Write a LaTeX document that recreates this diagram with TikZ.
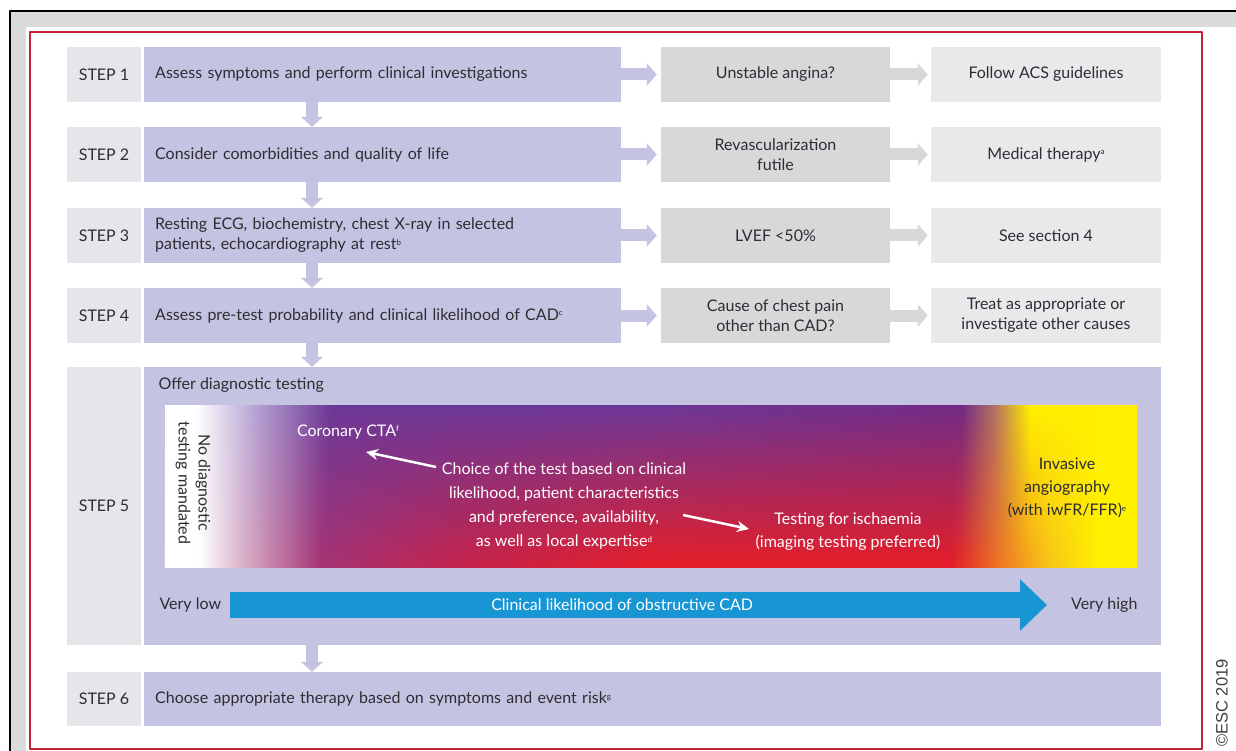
\documentclass[tikz,border=0pt]{standalone}
\usepackage{fontspec}
\setmainfont{Lato}
\newfontfamily\escfont{Liberation Sans}
\usetikzlibrary{arrows.meta,fadings}

\definecolor{boxpurple}{RGB}{197,195,226}
\definecolor{stepgray}{RGB}{230,230,234}
\definecolor{askgray}{RGB}{216,216,218}
\definecolor{outgray}{RGB}{233,233,236}
\definecolor{likeblue}{RGB}{24,150,212}
\definecolor{framered}{RGB}{190,35,55}
\definecolor{txt}{RGB}{45,45,50}
% colours of the likelihood band
\definecolor{toplav}{RGB}{184,168,214}
\definecolor{toppur}{RGB}{108,56,152}
\definecolor{toppur2}{RGB}{114,44,134}
\definecolor{topmauve}{RGB}{180,116,100}
\definecolor{likeyellow}{RGB}{255,240,0}
\definecolor{botpink}{RGB}{220,176,200}
\definecolor{botmag}{RGB}{166,52,116}
\definecolor{botcrim}{RGB}{196,36,76}
\definecolor{botred}{RGB}{230,30,40}
\definecolor{botorange}{RGB}{240,120,34}
\definecolor{botamber}{RGB}{248,196,24}

\pgfdeclarehorizontalshading{likelytop}{100bp}{color(0bp)=(white); color(25bp)=(white); color(26.6bp)=(white); color(29.5bp)=(toplav); color(33.5bp)=(toppur); color(50bp)=(toppur); color(66bp)=(toppur2); color(67.7bp)=(topmauve); color(69.5bp)=(likeyellow); color(100bp)=(likeyellow)}
\pgfdeclarehorizontalshading{likelybot}{100bp}{color(0bp)=(white); color(25bp)=(white); color(26.8bp)=(white); color(29bp)=(botpink); color(33bp)=(botmag); color(40bp)=(botcrim); color(50bp)=(botred); color(65.5bp)=(botred); color(68bp)=(botorange); color(70.5bp)=(botamber); color(73bp)=(likeyellow); color(100bp)=(likeyellow)}
\tikzfading[name=upfade,top color=transparent!100,middle color=transparent!72,bottom color=transparent!0]

\newcommand{\fnm}[1]{\raisebox{0.55ex}{\fontsize{8}{8}\selectfont #1}}

\begin{document}
\begin{tikzpicture}[x=1pt,y=-1pt,line join=round,font=\fontsize{16}{20}\selectfont,
		stepbox/.style={fill=stepgray,minimum width=74pt,minimum height=55pt,inner sep=0pt,text=txt},
		taskbox/.style={fill=boxpurple,anchor=west,text width=455pt,align=left,inner xsep=11pt,inner ysep=0pt,minimum height=55pt,text=txt},
		askbox/.style={fill=askgray,minimum width=229pt,minimum height=55pt,align=center,inner sep=0pt,text=txt},
		outbox/.style={fill=outgray,minimum width=230pt,minimum height=55pt,align=center,inner sep=0pt,text=txt},
		fat/.style={draw=#1,line width=12pt,-{Triangle[width=22pt,length=10pt]}},
		pointer/.style={white,line width=2.5pt,-{Stealth[length=12pt,width=11pt]}}]
			\useasboundingbox (0,0) rectangle (1236,751);
			% page frame
			\fill[black!14] (11,12) rectangle (1236,751);
			\fill[white] (26,27) rectangle (1236,751);
			\draw[line width=2pt] (10,751) -- (10,11) -- (1236,11);
			\draw[framered,line width=2pt] (30,32) rectangle (1202,749);
			\node[rotate=90,text=black!75,font=\escfont\fontsize{16.5}{16.5}\selectfont] (esc) at (1222,703) {©ESC 2019};
			% steps 1 to 4
			\foreach \i/\yy/\task/\ask/\out in {
				1/74.5/{Assess symptoms and perform clinical investigations}/{Unstable angina?}/{Follow ACS guidelines},
				2/154.5/{Consider comorbidities and quality of life}/{Revascularization\\futile}/{Medical therapy\fnm{a}},
				3/235.5/{Resting ECG, biochemistry, chest X-ray in selected\\patients, echocardiography at rest\fnm{b}}/{LVEF <50\%}/{See section 4},
				4/315.5/{Assess pre-test probability and clinical likelihood of CAD\fnm{c}}/{Cause of chest pain\\other than CAD?}/{Treat as appropriate or\\investigate other causes}}
			{
				\node[stepbox] (s\i) at (104,\yy) {STEP \i};
				\node[taskbox] (t\i) at (144,\yy) {\task};
				\node[askbox] (a\i) at (775.5,\yy) {\ask};
				\node[outbox] (o\i) at (1046,\yy) {\out};
				\draw[fat=boxpurple,shorten >=4pt] (t\i) -- (a\i);
				\draw[fat=askgray,shorten >=3pt] (a\i) -- (o\i);
			}
			% steps 5 and 6
			\node[stepbox,minimum height=278pt] (s5) at (104,506) {STEP 5};
			\node[fill=boxpurple,minimum width=1017pt,minimum height=278pt,inner sep=0pt] (t5) at (652.5,506) {};
			\node[stepbox,minimum height=54pt] (s6) at (104,699) {STEP 6};
			\node[taskbox,text width=995pt,minimum height=54pt] (t6) at (144,699) {Choose appropriate therapy based on symptoms and event risk\fnm{g}};
			\coordinate (dn) at (312,0);
			\foreach \a/\b in {t1/t2,t2/t3,t3/t4,t4/t5,t5/t6}
			\draw[fat=boxpurple] (\a.south -| dn) -- (\b.north -| dn);
			% likelihood band
			\shade[shading=likelytop] (165,405) rectangle (1137,567);
			\shade[shading=likelybot,path fading=upfade] (165,405) rectangle (1137,567);
			\node[anchor=west,text=txt] (offer) at (155,385) {Offer diagnostic testing};
			\node[rotate=-90,align=center,text=txt] (nodiag) at (193,483) {No diagnostic\\testing mandated};
			\node[text=white] (cta) at (348,432) {Coronary CTA\fnm{f}};
			\node[text=white,align=center,font=\fontsize{16}{24}\selectfont] (choice) at (564,506) {Choice of the test based on clinical\\likelihood, patient characteristics\\and preference, availability,\\as well as local expertise\fnm{d}};
			\node[text=white,align=center,font=\fontsize{16}{23}\selectfont] (ischaemia) at (848,532) {Testing for ischaemia\\(imaging testing preferred)};
			\node[text=txt,align=center,font=\fontsize{16}{23}\selectfont] (invasive) at (1067,488) {Invasive\\angiography\\(with iwFR/FFR)\fnm{e}};
			\coordinate (choicetail) at (436,467);
			\coordinate (ctatip) at (366,452);
			\coordinate (choicehead) at (683,515);
			\coordinate (ischtip) at (749,529);
			\draw[pointer] (choicetail) -- (ctatip);
			\draw[pointer] (choicehead) -- (ischtip);
			% likelihood arrow
			\node[anchor=west,text=txt] (vlow) at (156,605) {Very low};
			\node[anchor=east,text=txt] (vhigh) at (1141,605) {Very high};
			\coordinate (lowend) at (230,605);
			\coordinate (highend) at (1047,605);
			\draw[likeblue,line width=26pt,-{Triangle[width=50pt,length=27pt]}] (lowend) -- (highend) node[pos=0.48,text=white] {Clinical likelihood of obstructive CAD};
		\end{tikzpicture}
\end{document}
